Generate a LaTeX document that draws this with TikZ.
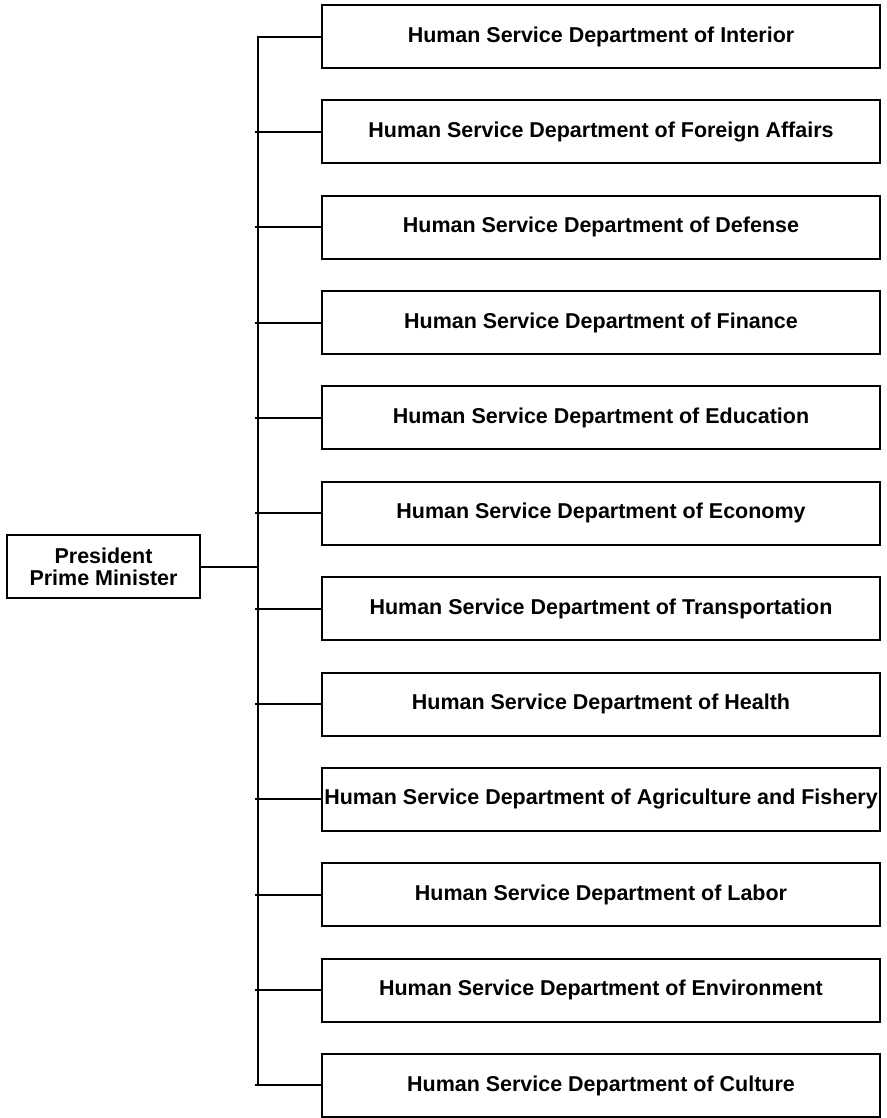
\documentclass[tikz,border=0pt]{standalone}
\usepackage{fontspec}
\setmainfont{Liberation Sans}
\begin{document}
\begin{tikzpicture}[x=0.75pt,y=-0.75pt,
  dept/.style={draw=black, line width=1.5pt, fill=white, inner sep=0pt,
    minimum width=418.5pt, minimum height=47.25pt,
    font=\fontsize{16.1pt}{19pt}\selectfont\bfseries},
  head/.style={draw=black, line width=1.5pt, fill=white, inner sep=0pt,
    minimum width=144.75pt, minimum height=47.25pt, align=center,
    font=\fontsize{16.1pt}{16.5pt}\selectfont\bfseries},
  wire/.style={draw=black, line width=1.5pt}]
  \useasboundingbox (0,0) rectangle (886,1118);
  % vertical spine of the chart
  \coordinate (trunk) at (258,0);
  \coordinate (stub) at (255,0);
  % department boxes
  \foreach \name [count=\i from 0] in {Interior,Foreign Affairs,Defense,Finance,Education,Economy,Transportation,Health,Agriculture and Fishery,Labor,Environment,Culture}{
    \node[dept] (d\i) at (601,{36.5+95.36*\i}) {Human Service Department of \name};
  }
  % head of government
  \node[head] (pm) at (103.5,566.5) {President\\Prime Minister};
  % spine from first to last department
  \draw[wire] (d0.west) -- (d0.west -| trunk) -- (d11.west -| trunk);
  \draw[wire] (d11.west -| stub) -- (d11.west);
  \foreach \i in {1,...,10}{
    \draw[wire] (d\i.west -| stub) -- (d\i.west);
  }
  \draw[wire] (pm.east) -- (pm.east -| trunk);
\end{tikzpicture}
\end{document}
